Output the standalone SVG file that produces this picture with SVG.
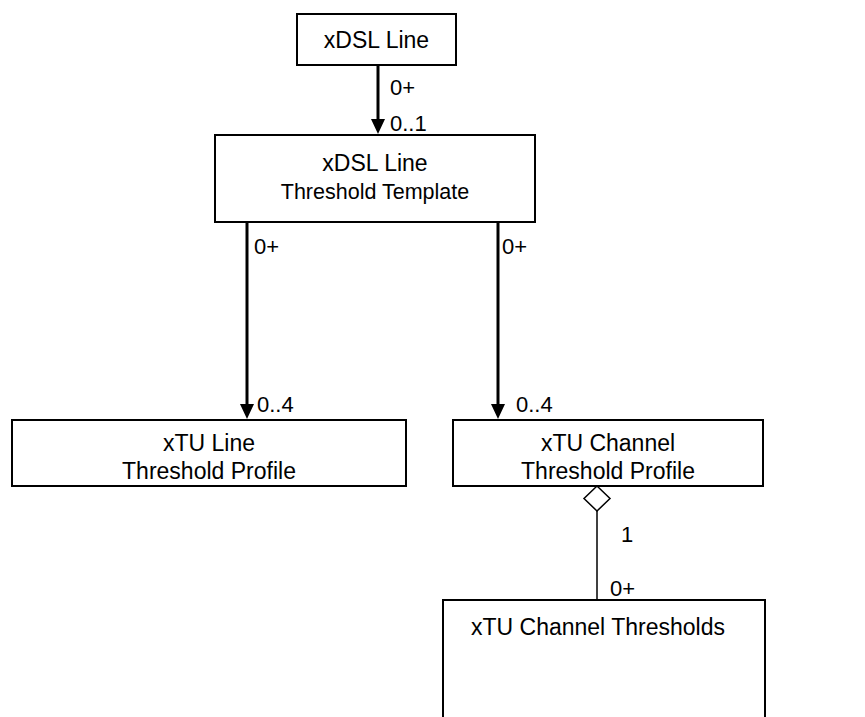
<svg xmlns="http://www.w3.org/2000/svg" width="865" height="717" viewBox="0 0 865 717">
<defs>
<style>
.box{fill:#fff;stroke:#000;stroke-width:2}
.t{font-family:"Liberation Sans",Arial,sans-serif;font-size:23px;fill:#000;text-anchor:middle}
.ts{font-family:"Liberation Sans",Arial,sans-serif;font-size:21.5px;fill:#000;text-anchor:middle}
.m{font-family:"Liberation Sans",Arial,sans-serif;font-size:22px;fill:#000}
.thick{stroke:#000;stroke-width:3;fill:none}
.thin{stroke:#000;stroke-width:1.5;fill:none}
</style>
</defs>
<rect width="865" height="717" fill="#fff"/>
<g id="connectors">
<line class="thick" x1="378" y1="65" x2="378" y2="121"/>
<path d="M371,119 L385,119 L378,134 Z" fill="#000"/>
<line class="thick" x1="247" y1="222" x2="247" y2="406"/>
<path d="M240,404 L254,404 L247,419 Z" fill="#000"/>
<line class="thick" x1="498" y1="222" x2="498" y2="406"/>
<path d="M491,404 L505,404 L498,419 Z" fill="#000"/>
<line class="thin" x1="597" y1="511" x2="597" y2="600"/>
<path class="thin" d="M597,486 L610,498.5 L597,511 L584,498.5 Z" fill="#fff"/>
<text class="m" x="390" y="95">0+</text>
<text class="m" x="390" y="131">0..1</text>
<text class="m" x="254" y="254">0+</text>
<text class="m" x="502" y="254">0+</text>
<text class="m" x="257" y="412">0..4</text>
<text class="m" x="516" y="412">0..4</text>
<text class="m" x="621" y="542">1</text>
<text class="m" x="610" y="596">0+</text>
</g>
<g id="xdsl-line">
<rect class="box" x="297" y="14" width="159" height="51"/>
<text class="t" x="376.5" y="48">xDSL Line</text>
</g>
<g id="xdsl-line-threshold-template">
<rect class="box" x="215" y="135" width="320" height="87"/>
<text class="t" x="375" y="171">xDSL Line</text>
<text class="ts" x="375" y="199">Threshold Template</text>
</g>
<g id="xtu-line-threshold-profile">
<rect class="box" x="12" y="420" width="394" height="66"/>
<text class="t" x="209" y="451">xTU Line</text>
<text class="t" x="209" y="479">Threshold Profile</text>
</g>
<g id="xtu-channel-threshold-profile">
<rect class="box" x="453" y="420" width="310" height="66"/>
<text class="t" x="608" y="451">xTU Channel</text>
<text class="t" x="608" y="479">Threshold Profile</text>
</g>
<g id="xtu-channel-thresholds">
<rect class="box" x="443" y="600" width="322" height="140"/>
<text class="t" x="598" y="635">xTU Channel Thresholds</text>
</g>
</svg>
